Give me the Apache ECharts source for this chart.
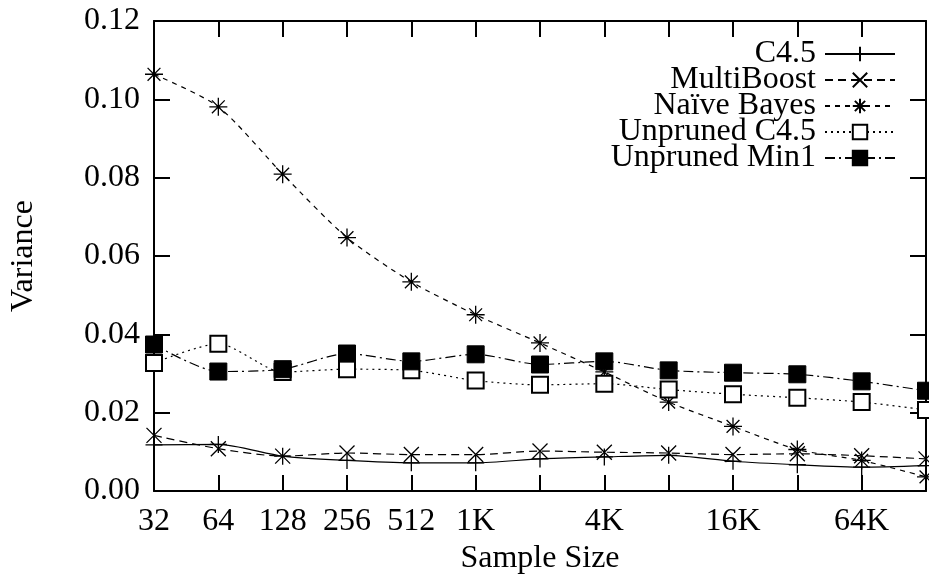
<!DOCTYPE html>
<html>
<head>
<meta charset="utf-8">
<script src="https://cdn.jsdelivr.net/npm/echarts@6/dist/echarts.min.js"></script>
<style>html,body{margin:0;padding:0;background:#fff}#c{width:929px;height:574px}</style>
</head>
<body>
<div id="c"></div>
<script>
const sampleSizes = [32,64,128,256,512,1024,2048,4096,8192,16384,32768,65536,131072];
const xTickLabels = ['32','64','128','256','512','1K','','4K','','16K','','64K',''];
const seriesNames = ['C4.5','MultiBoost','Naïve Bayes','Unpruned C4.5','Unpruned Min1'];
const c45 = [0.0118,0.0119,0.0089,0.0078,0.0072,0.0072,0.0082,0.0087,0.0091,0.0076,0.0067,0.0061,0.0065];
const multiBoost = [0.0142,0.0108,0.0089,0.0097,0.0093,0.0093,0.0102,0.0099,0.0097,0.0093,0.0095,0.0090,0.0082];
const naiveBayes = [0.1064,0.0981,0.0809,0.0647,0.0534,0.0450,0.0378,0.0304,0.0227,0.0165,0.0106,0.0078,0.0036];
const unprunedC45 = [0.0327,0.0376,0.0304,0.0311,0.0308,0.0282,0.0271,0.0274,0.0259,0.0247,0.0238,0.0227,0.0207];
const unprunedMin1 = [0.0374,0.0305,0.0311,0.0351,0.0331,0.0349,0.0323,0.0331,0.0308,0.0302,0.0298,0.0280,0.0256];

const FONT = '"Liberation Serif", "DejaVu Serif", serif';
const FS = 32;
const xMin = Math.log2(sampleSizes[0]);
const xMax = Math.log2(sampleSizes[sampleSizes.length - 1]);
function pairs(vals){ return sampleSizes.map((s,i)=>[Math.log2(s), vals[i]]); }

const PLUS = 'path://M0,8L16,8M8,0L8,16';
const CROSS = 'path://M0,0L16,16M16,0L0,16';
const STAR = 'path://M0,8L16,8M8,0L8,16M2.3,2.3L13.7,13.7M13.7,2.3L2.3,13.7';

function mk(name, vals, symbol, size, dash, sw){
  return {
    name, type:'line', data: pairs(vals), xAxisIndex:0, yAxisIndex:0,
    symbol, symbolSize:size, smooth:0.25,
    lineStyle:{color:'#000', width:1.2, type:dash},
    itemStyle:{color:'#000', borderColor:'#000', borderWidth:sw},
    emphasis:{disabled:true}, z:3
  };
}

const axisCommon = {
  axisLine:{show:true, onZero:false, lineStyle:{color:'#000', width:2}},
  axisTick:{show:true, inside:true, length:16, lineStyle:{color:'#000', width:2}},
  splitLine:{show:false}
};

const chart = echarts.init(document.getElementById('c'));
chart.setOption({
  animation:false,
  backgroundColor:'#fff',
  grid:{left:154, right:3, top:21, bottom:83, containLabel:false, outerBoundsMode:'none'},
  legend:{
    orient:'vertical', align:'right', right:28, top:33,
    itemWidth:70, itemHeight:18, itemGap:-6,
    data: seriesNames,
    textStyle:{fontFamily:FONT, fontSize:FS, color:'#000', padding:[0,4,0,0]},
    selectedMode:false
  },
  xAxis:[
    Object.assign({type:'value', min:xMin, max:xMax, interval:1, position:'bottom',
      name:'Sample Size', nameLocation:'middle', nameGap:45,
      nameTextStyle:{fontFamily:FONT, fontSize:FS, color:'#000'},
      axisLabel:{fontFamily:FONT, fontSize:FS, color:'#000', margin:15,
        formatter:function(v){ return xTickLabels[Math.round(v - xMin)] || ''; }}}, axisCommon),
    Object.assign({type:'value', min:xMin, max:xMax, interval:1, position:'top',
      axisLabel:{show:false}}, axisCommon)
  ],
  yAxis:[
    Object.assign({type:'value', min:0, max:0.12, interval:0.02, position:'left',
      name:'Variance', nameLocation:'middle', nameGap:114, nameRotate:90,
      nameTextStyle:{fontFamily:FONT, fontSize:FS, color:'#000'},
      axisLabel:{fontFamily:FONT, fontSize:FS, color:'#000', margin:14,
        formatter:function(v){ return v.toFixed(2); }}}, axisCommon),
    Object.assign({type:'value', min:0, max:0.12, interval:0.02, position:'right',
      axisLabel:{show:false}}, axisCommon)
  ],
  series:[
    mk(seriesNames[0], c45, PLUS, 17, 'solid', 1.3),
    mk(seriesNames[1], multiBoost, CROSS, 15, [8,5], 1.3),
    mk(seriesNames[2], naiveBayes, STAR, 18, [5,5], 1.3),
    mk(seriesNames[3], unprunedC45, 'emptyRect', 16, [2,4], 1.5),
    mk(seriesNames[4], unprunedMin1, 'rect', 17, [10,4,2,4], 1)
  ]
});
</script>
</body>
</html>
